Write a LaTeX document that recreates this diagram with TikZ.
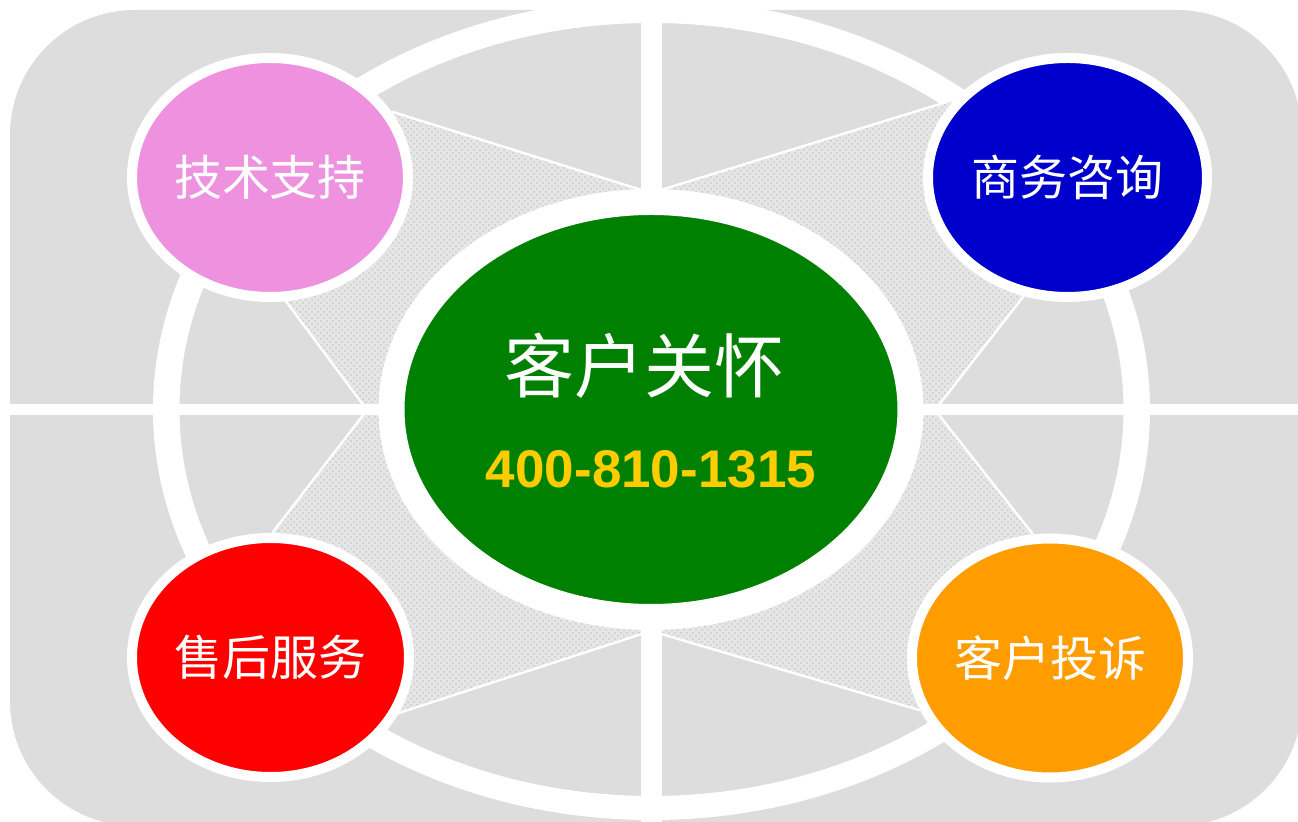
\documentclass[tikz,border=0pt]{standalone}
\usepackage{fontspec}
\setmainfont{Liberation Sans}
\newfontfamily\cjk{Noto Sans CJK SC}
\usetikzlibrary{shapes.geometric,patterns}
\definecolor{bgq}{HTML}{DDDDDD}
\definecolor{pinkc}{HTML}{EE92E0}
\definecolor{bluec}{HTML}{0000CC}
\definecolor{redc}{HTML}{FF0000}
\definecolor{orangec}{HTML}{FF9C00}
\definecolor{greenc}{HTML}{008000}
\definecolor{numc}{HTML}{FFCC00}
\definecolor{hatchbg}{HTML}{E6E6E6}
\definecolor{hatchdot}{HTML}{C8C8C8}
\tikzset{
  bubble/.style={ellipse, draw=white, line width=5pt, inner sep=0pt,
    minimum width=138pt, minimum height=119.5pt, text=white,
    font=\cjk\fontsize{24}{28}\selectfont},
  hub/.style={ellipse, draw=white, line width=13pt, fill=greenc, inner sep=0pt,
    minimum width=259.5pt, minimum height=207.5pt},
  hubtitle/.style={text=white, font=\cjk\fontsize{35}{40}\selectfont, inner sep=0pt},
  hubnum/.style={text=numc, font=\bfseries\fontsize{26.5}{30}\selectfont, inner sep=0pt},
}
\begin{document}
\begin{tikzpicture}[x=0.5pt,y=-0.5pt]
\useasboundingbox (0,0) rectangle (1298,822);
% grey background panel
\fill[bgq, rounded corners=62.5pt] (10,10) rectangle (1302,826);
% big white ring
\fill[white, even odd rule] (651.5,409.5) ellipse [x radius=498.5, y radius=410.5]
  (651.5,409.5) ellipse [x radius=472, y radius=386.5];
% hatched X shape
\path[fill=hatchbg, postaction={pattern=crosshatch dots, pattern color=hatchdot}]
  (270,177.5) -- (393,112) -- (651,193) -- (953,100) -- (1067.5,177.5)
  -- (1023,297) -- (935,410) -- (1032,533) -- (1050,658)
  -- (919,710) -- (651,631) -- (399,713) -- (270.5,657.5)
  -- (273,532) -- (367,410) -- (285,300) -- cycle;
\draw[white, line width=1.2pt, line join=miter]
  (270,177.5) -- (393,112) -- (651,193) -- (953,100) -- (1067.5,177.5)
  -- (1023,297) -- (935,410) -- (1032,533) -- (1050,658)
  -- (919,710) -- (651,631) -- (399,713) -- (270.5,657.5)
  -- (273,532) -- (367,410) -- (285,300) -- cycle;
% white cross bands
\fill[white] (641,0) rectangle (662,822);
\fill[white] (0,404) rectangle (1298,415);
% satellites
\node[bubble, fill=pinkc] (tech) at (270,177.5) {\raisebox{-2pt}{技术支持}};
\node[bubble, fill=bluec, minimum width=139.5pt] (biz) at (1067.5,177.5) {\raisebox{-2pt}{商务咨询}};
\node[bubble, fill=redc, minimum width=138.5pt] (after) at (270.5,657.5) {\raisebox{-2pt}{售后服务}};
\node[bubble, fill=orangec] (compl) at (1050,658) {\raisebox{-2pt}{客户投诉}};
% hub
\node[hub] (care) at (651,409.5) {};
\node[hubtitle] (caretitle) at (644,366) {客户关怀};
\node[hubnum] (carenum) at (651,469) {400-810-1315};
\end{tikzpicture}
\end{document}
